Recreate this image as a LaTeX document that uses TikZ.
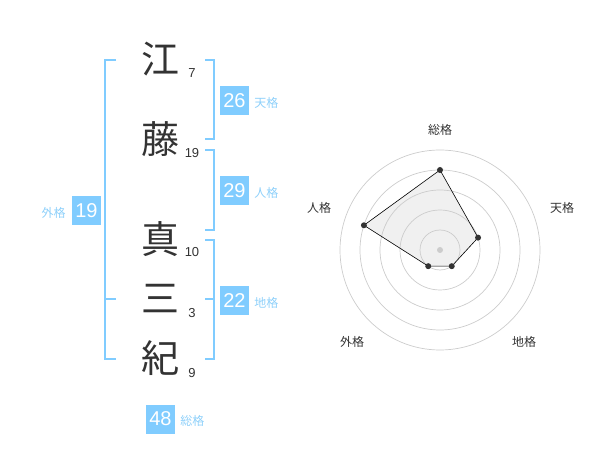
\documentclass[tikz,border=0pt]{standalone}
\usepackage{fontspec}
\setmainfont{Noto Sans CJK JP}
\newfontfamily\digitfont{Liberation Sans}
\usetikzlibrary{positioning}
\definecolor{kakublue}{HTML}{80CCFF}
\definecolor{kakulabel}{HTML}{8ED0FA}
\definecolor{inkgray}{HTML}{333333}
\definecolor{ringgray}{HTML}{CCCCCC}
\definecolor{areagray}{HTML}{F0F0F0}

\begin{document}
\begin{tikzpicture}[x=1pt, y=-1pt,
		kanji/.style={font=\fontsize{38}{38}\selectfont, text=inkgray, inner sep=0pt},
		kakusu/.style={font=\digitfont\fontsize{13}{13}\selectfont, text=inkgray, inner sep=0pt},
		kakubox/.style={fill=kakublue, text=white, minimum size=29pt, inner sep=0pt, font=\digitfont\fontsize{20}{20}\selectfont},
		kakuname/.style={font=\fontsize{12}{12}\selectfont, text=kakulabel, inner sep=0pt},
		bracket/.style={draw=kakublue, line width=2pt},
		axisname/.style={font=\fontsize{12}{12}\selectfont, text=inkgray, inner sep=0pt}]
		\useasboundingbox (0,0) rectangle (600,470);

		% name
		\node[kanji] (k1) at (160,59) {江};
		\node[kanji] (k2) at (160,139) {藤};
		\node[kanji] (k3) at (160,239) {真};
		\node[kanji] (k4) at (160,299) {三};
		\node[kanji] (k5) at (160,358) {紀};

		\node[kakusu] (s1) at (192,73) {7};
		\node[kakusu] (s2) at (192,153) {19};
		\node[kakusu] (s3) at (192,252) {10};
		\node[kakusu] (s4) at (192,313) {3};
		\node[kakusu] (s5) at (192,373) {9};

		% brackets
		\draw[bracket] (116,60) -- (105,60) -- (105,359) -- (116,359);
		\draw[bracket] (105,299) -- (116,299);
		\draw[bracket] (205,60) -- (214,60) -- (214,139) -- (205,139);
		\draw[bracket] (205,150) -- (214,150) -- (214,230) -- (205,230);
		\draw[bracket] (205,240) -- (214,240) -- (214,359) -- (205,359);
		\draw[bracket] (205,299) -- (214,299);

		% kaku
		\node[kakubox] (ten) at (234.5,100.5) {26};
		\node[kakuname, anchor=base west] (tenname) at ([xshift=5pt]ten.base east) {天格};
		\node[kakubox] (jin) at (234.5,190.5) {29};
		\node[kakuname, anchor=base west] (jinname) at ([xshift=5pt]jin.base east) {人格};
		\node[kakubox] (chi) at (234.5,300.5) {22};
		\node[kakuname, anchor=base west] (chiname) at ([xshift=5pt]chi.base east) {地格};
		\node[kakubox] (gai) at (86.5,210.5) {19};
		\node[kakuname, anchor=base east] (gainame) at ([xshift=-6pt]gai.base west) {外格};
		\node[kakubox] (sou) at (160.5,419) {48};
		\node[kakuname, anchor=base west] (souname) at ([xshift=5pt]sou.base east) {総格};

		% radar
		\coordinate (rc) at (440,250);
		\coordinate (rsou) at ([shift={(90:80pt)}]rc);
		\coordinate (rten) at ([shift={(18:40pt)}]rc);
		\coordinate (rchi) at ([shift={(-54:20pt)}]rc);
		\coordinate (rgai) at ([shift={(-126:20pt)}]rc);
		\coordinate (rjin) at ([shift={(162:80pt)}]rc);

		\fill[areagray] (rsou) -- (rten) -- (rchi) -- (rgai) -- (rjin) -- cycle;
		\foreach \r in {20,40,60,80,100}
			\draw[ringgray, line width=0.7pt] (rc) circle[radius=\r pt];
		\draw[black, line width=0.6pt] (rsou) -- (rten) -- (rchi) -- (rgai) -- (rjin) -- cycle;
		\foreach \p in {rsou,rten,rchi,rgai,rjin}
			\fill[inkgray] (\p) circle[radius=3pt];
		\fill[ringgray] (rc) circle[radius=3pt];

		\node[axisname] (asou) at (440,130) {総格};
		\node[axisname] (aten) at (562,208) {天格};
		\node[axisname] (achi) at (524,342) {地格};
		\node[axisname] (agai) at (352,342) {外格};
		\node[axisname] (ajin) at (319,208) {人格};
	\end{tikzpicture}
\end{document}
